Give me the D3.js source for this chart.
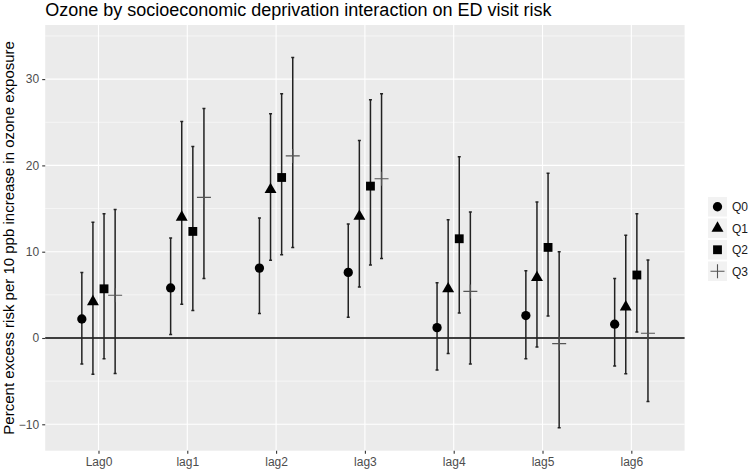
<!DOCTYPE html>
<html>
<head>
<meta charset="utf-8">
<script src="https://cdn.jsdelivr.net/npm/d3@7"></script>
<style>
  body { margin: 0; background: #fff; }
  text { font-family: "Liberation Sans", Arial, sans-serif; }
</style>
</head>
<body>
<div id="chart"></div>
<script>
// categories
var lags = ["Lag0", "lag1", "lag2", "lag3", "lag4", "lag5", "lag6"];
var groups = ["Q0", "Q1", "Q2", "Q3"];

// point estimates per quartile group
var estQ0 = [2.2, 5.8, 8.1, 7.6, 1.2, 2.6, 1.6];
var estQ1 = [4.2, 14.0, 17.2, 14.1, 5.7, 7.0, 3.6];
var estQ2 = [5.7, 12.35, 18.6, 17.6, 11.5, 10.5, 7.3];
var estQ3 = [4.95, 16.3, 21.1, 18.45, 5.4, -0.65, 0.55];

// lower confidence limits
var loQ0 = [-3.0, 0.4, 2.85, 2.4, -3.7, -2.4, -3.25];
var loQ1 = [-4.2, 3.9, 9.0, 5.9, -1.8, -1.05, -4.15];
var loQ2 = [-2.4, 3.2, 9.65, 8.45, 2.9, 2.55, 0.7];
var loQ3 = [-4.1, 6.9, 10.5, 9.2, -3.0, -10.4, -7.35];

// upper confidence limits
var hiQ0 = [7.6, 11.6, 13.9, 13.2, 6.4, 7.8, 6.9];
var hiQ1 = [13.4, 25.1, 26.0, 22.9, 13.7, 15.75, 11.9];
var hiQ2 = [14.4, 22.2, 28.3, 27.6, 21.0, 19.1, 14.4];
var hiQ3 = [14.9, 26.6, 32.5, 28.3, 14.6, 10.0, 9.05];

var yTicks = [-10, 0, 10, 20, 30];
var yMinor = [-5, 5, 15, 25, 35];

var titleText = "Ozone by socioeconomic deprivation interaction on ED visit risk";
var yTitle = "Percent excess risk per 10 ppb increase in ozone exposure";

var est = [estQ0, estQ1, estQ2, estQ3];
var lo = [loQ0, loQ1, loQ2, loQ3];
var hi = [hiQ0, hiQ1, hiQ2, hiQ3];

var rows = [];
groups.forEach(function(g, j) {
    lags.forEach(function(lag, i) {
        rows.push({ lag: lag, group: g, est: est[j][i], lo: lo[j][i], hi: hi[j][i] });
    });
});

var width = 749, height = 470;
var panel = { left: 45.2, right: 684.6, top: 25, bottom: 450.7 };

var svg = d3.select("#chart").append("svg")
    .attr("width", width)
    .attr("height", height);

var x = d3.scalePoint()
    .domain(lags)
    .range([panel.left, panel.right])
    .padding(0.6);

// dodge width 0.5 of a category step
var dodge = d3.scalePoint()
    .domain(groups)
    .range([-x.step() * 0.5 * 3 / 8, x.step() * 0.5 * 3 / 8]);

var y = d3.scaleLinear()
    .domain([-13.06, 36.27])
    .range([panel.bottom, panel.top]);

// panel background
svg.append("rect")
    .attr("x", panel.left)
    .attr("y", panel.top)
    .attr("width", panel.right - panel.left)
    .attr("height", panel.bottom - panel.top)
    .attr("fill", "#ebebeb");

var grid = svg.append("g").attr("class", "grid");
grid.selectAll("line.minor").data(yMinor).enter().append("line")
    .attr("x1", panel.left).attr("x2", panel.right)
    .attr("y1", function(d) { return y(d); })
    .attr("y2", function(d) { return y(d); })
    .attr("stroke", "#fff").attr("stroke-width", 0.55);
grid.selectAll("line.majorY").data(yTicks).enter().append("line")
    .attr("x1", panel.left).attr("x2", panel.right)
    .attr("y1", function(d) { return y(d); })
    .attr("y2", function(d) { return y(d); })
    .attr("stroke", "#fff").attr("stroke-width", 1.1);
grid.selectAll("line.majorX").data(lags).enter().append("line")
    .attr("y1", panel.top).attr("y2", panel.bottom)
    .attr("x1", function(d) { return x(d); })
    .attr("x2", function(d) { return x(d); })
    .attr("stroke", "#fff").attr("stroke-width", 1.1);

// zero reference line
svg.append("line")
    .attr("x1", panel.left).attr("x2", panel.right)
    .attr("y1", y(0)).attr("y2", y(0))
    .attr("stroke", "#000").attr("stroke-width", 1.4);

// axes
var xAxis = d3.axisBottom(x).tickSize(3).tickPadding(4);
var yAxis = d3.axisLeft(y).tickValues(yTicks).tickSize(3).tickPadding(3);

var gx = svg.append("g")
    .attr("transform", "translate(0," + panel.bottom + ")")
    .call(xAxis);
var gy = svg.append("g")
    .attr("transform", "translate(" + panel.left + ",0)")
    .call(yAxis);
[gx, gy].forEach(function(g) {
    g.select(".domain").remove();
    g.selectAll(".tick line").attr("stroke", "#333").attr("stroke-width", 1.1);
    g.selectAll(".tick text")
        .attr("fill", "#4d4d4d")
        .style("font-size", "12px")
        .style("font-family", "Liberation Sans, Arial, sans-serif");
});

// error bars
function px(d) { return x(d.lag) + dodge(d.group); }

var bars = svg.append("g").attr("class", "errorbars");
bars.selectAll("path").data(rows).enter().append("path")
    .attr("d", function(d) {
        var cx = px(d), cap = 1.5;
        return "M" + (cx - cap) + "," + y(d.hi) + "H" + (cx + cap) +
            "M" + cx + "," + y(d.hi) + "V" + y(d.lo) +
            "M" + (cx - cap) + "," + y(d.lo) + "H" + (cx + cap);
    })
    .attr("fill", "none")
    .attr("stroke", "#222")
    .attr("stroke-width", 1.5);

// point markers by group shape
var shapes = {
    Q0: d3.symbol().type(d3.symbolCircle).size(68),
    Q1: d3.symbol().type(d3.symbolTriangle).size(62),
    Q2: d3.symbol().type(d3.symbolSquare).size(78)
};

function drawMarker(sel, g) {
    if (g === "Q3") {
        sel.append("path")
            .attr("d", "M-7,0H7M0,-7V7")
            .attr("fill", "none")
            .attr("stroke", "#555")
            .attr("stroke-width", 1.1);
    } else {
        sel.append("path")
            .attr("d", shapes[g]())
            .attr("fill", "#000");
    }
}

var points = svg.append("g").attr("class", "points");
points.selectAll("g").data(rows).enter().append("g")
    .attr("transform", function(d) { return "translate(" + px(d) + "," + y(d.est) + ")"; })
    .each(function(d) { drawMarker(d3.select(this), d.group); });

// legend
var legend = svg.append("g").attr("class", "legend")
    .attr("transform", "translate(708,197)");
var keys = legend.selectAll("g").data(groups).enter().append("g")
    .attr("transform", function(d, i) { return "translate(0," + (i * 21.5) + ")"; });
keys.append("rect")
    .attr("width", 19).attr("height", 19.5)
    .attr("fill", "#f2f2f2");
keys.append("g")
    .attr("transform", "translate(9.5,9.75)")
    .each(function(d) { drawMarker(d3.select(this), d); });
keys.append("text")
    .attr("x", 24).attr("y", 10)
    .attr("dy", "0.35em")
    .attr("fill", "#1a1a1a")
    .style("font-size", "12px")
    .text(function(d) { return d; });

// titles
svg.append("text")
    .attr("x", panel.left)
    .attr("y", 16)
    .attr("fill", "#000")
    .style("font-size", "18px")
    .text(titleText);

svg.append("text")
    .attr("transform", "translate(14," + ((panel.top + panel.bottom) / 2) + ") rotate(-90)")
    .attr("text-anchor", "middle")
    .attr("fill", "#000")
    .style("font-size", "15px")
    .text(yTitle);
</script>
</body>
</html>
